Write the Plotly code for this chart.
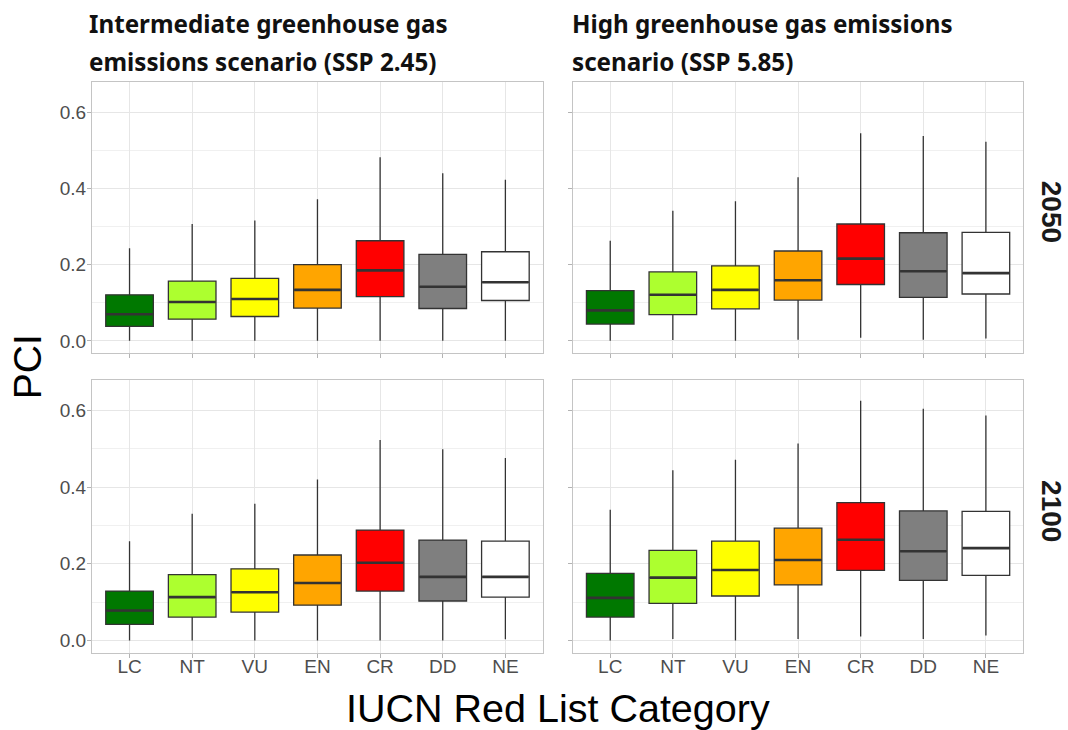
import plotly.graph_objects as go

categories = ["LC", "NT", "VU", "EN", "CR", "DD", "NE"]
box_colors = ["#007800", "#ADFF2F", "#FFFF00", "#FFA500", "#FF0000", "#7F7F7F", "#FFFFFF"]

# SSP 2.45, 2050
s245_2050_low = [0.0, 0.0, 0.0, 0.0, 0.0, 0.0, 0.0]
s245_2050_q1 = [0.038, 0.057, 0.064, 0.086, 0.116, 0.085, 0.106]
s245_2050_med = [0.070, 0.102, 0.110, 0.134, 0.185, 0.142, 0.154]
s245_2050_q3 = [0.121, 0.157, 0.164, 0.200, 0.263, 0.227, 0.234]
s245_2050_high = [0.243, 0.307, 0.316, 0.372, 0.482, 0.440, 0.423]

# SSP 5.85, 2050
s585_2050_low = [0.0, 0.002, 0.0, 0.003, 0.008, 0.003, 0.006]
s585_2050_q1 = [0.044, 0.069, 0.084, 0.107, 0.148, 0.114, 0.123]
s585_2050_med = [0.080, 0.121, 0.134, 0.159, 0.216, 0.183, 0.178]
s585_2050_q3 = [0.132, 0.181, 0.197, 0.236, 0.307, 0.284, 0.285]
s585_2050_high = [0.263, 0.342, 0.367, 0.430, 0.545, 0.538, 0.523]

# SSP 2.45, 2100
s245_2100_low = [0.0, 0.0, 0.0, 0.0, 0.0, 0.0, 0.003]
s245_2100_q1 = [0.042, 0.061, 0.074, 0.092, 0.129, 0.103, 0.113]
s245_2100_med = [0.078, 0.113, 0.126, 0.150, 0.203, 0.166, 0.166]
s245_2100_q3 = [0.129, 0.172, 0.187, 0.223, 0.288, 0.262, 0.259]
s245_2100_high = [0.259, 0.331, 0.357, 0.420, 0.523, 0.499, 0.476]

# SSP 5.85, 2100
s585_2100_low = [0.0, 0.004, 0.0, 0.004, 0.010, 0.004, 0.013]
s585_2100_q1 = [0.061, 0.097, 0.116, 0.145, 0.183, 0.157, 0.170]
s585_2100_med = [0.111, 0.164, 0.184, 0.210, 0.263, 0.233, 0.241]
s585_2100_q3 = [0.175, 0.235, 0.259, 0.293, 0.360, 0.338, 0.337]
s585_2100_high = [0.341, 0.444, 0.472, 0.514, 0.626, 0.605, 0.587]

col_titles = [
    ["Intermediate greenhouse gas", "emissions scenario (SSP 2.45)"],
    ["High greenhouse gas emissions", "scenario (SSP 5.85)"],
]
row_labels = ["2050", "2100"]
y_ticks = [0.0, 0.2, 0.4, 0.6]
y_ticktext = ["0.0", "0.2", "0.4", "0.6"]
x_title = "IUCN Red List Category"
y_title = "PCI"

BOX_W = 0.76
positions = list(range(len(categories)))

panels = [
    ("x", "y", (s245_2050_low, s245_2050_q1, s245_2050_med, s245_2050_q3, s245_2050_high)),
    ("x2", "y2", (s585_2050_low, s585_2050_q1, s585_2050_med, s585_2050_q3, s585_2050_high)),
    ("x3", "y3", (s245_2100_low, s245_2100_q1, s245_2100_med, s245_2100_q3, s245_2100_high)),
    ("x4", "y4", (s585_2100_low, s585_2100_q1, s585_2100_med, s585_2100_q3, s585_2100_high)),
]

fig = go.Figure()
for xa, ya, (lo, q1, med, q3, hi) in panels:
    for i, pos in enumerate(positions):
        fig.add_trace(go.Box(
            x=[pos], q1=[q1[i]], median=[med[i]], q3=[q3[i]],
            lowerfence=[lo[i]], upperfence=[hi[i]],
            xaxis=xa, yaxis=ya,
            fillcolor=box_colors[i],
            line=dict(color="#333333", width=1.3),
            whiskerwidth=0, width=BOX_W,
            boxpoints=False, showlegend=False, hoverinfo="skip",
        ))
    # thicker median bars, as in ggplot (fatten = 2)
    mx, my = [], []
    for i, pos in enumerate(positions):
        mx += [pos - BOX_W / 2 + 0.01, pos + BOX_W / 2 - 0.01, None]
        my += [med[i], med[i], None]
    fig.add_trace(go.Scatter(
        x=mx, y=my, xaxis=xa, yaxis=ya, mode="lines",
        line=dict(color="#333333", width=2.6),
        showlegend=False, hoverinfo="skip",
    ))

x_domains = [[0.0861, 0.5084], [0.5362, 0.9583]]
y_domains = [[0.5164, 0.8877], [0.1059, 0.4795]]

axis_common = dict(
    showline=True, linecolor="#c4c4c4", linewidth=1, mirror=True,
    ticks="outside", ticklen=4, tickcolor="#b3b3b3", tickwidth=1,
    gridcolor="#e6e6e6", gridwidth=1, zeroline=False,
    tickfont=dict(family="Liberation Sans, Arial, sans-serif", size=19, color="#4d4d4d"),
)

layout = dict(
    width=1068, height=730,
    margin=dict(l=0, r=0, t=0, b=0),
    paper_bgcolor="white", plot_bgcolor="white",
    boxmode="overlay",
    showlegend=False,
)
for k, (xa, ya, _) in enumerate(panels):
    r, c = divmod(k, 2)
    xname = "xaxis" if k == 0 else f"xaxis{k+1}"
    yname = "yaxis" if k == 0 else f"yaxis{k+1}"
    layout[xname] = dict(
        axis_common, domain=x_domains[c], anchor=ya,
        range=[-0.6, len(categories) - 0.4],
        tickvals=positions, ticktext=categories, showticklabels=(r == 1),
        ticklabelstandoff=-7,
    )
    layout[yname] = dict(
        axis_common, domain=y_domains[r], anchor=xa,
        range=[-0.032, 0.68], tickvals=y_ticks, ticktext=y_ticktext,
        showticklabels=(c == 0), ticklabelstandoff=-3,
        minor=dict(showgrid=True, dtick=0.1, tick0=0.1, gridcolor="#f0f0f0", gridwidth=1, ticks=""),
    )
fig.update_layout(**layout)

title_font = dict(family="Noto Sans, sans-serif", size=24.2, color="#111111")
title_x = [0.0815, 0.5337]
title_y = [0.968, 0.9156]
for c in range(2):
    for j in range(2):
        fig.add_annotation(
            text=f"<b>{col_titles[c][j]}</b>", xref="paper", yref="paper",
            x=title_x[c], y=title_y[j], xanchor="left", yanchor="middle",
            showarrow=False, font=title_font,
        )

strip_y = [0.710, 0.300]
for r in range(2):
    fig.add_annotation(
        text=f"<b>{row_labels[r]}</b>", xref="paper", yref="paper",
        x=0.984, y=strip_y[r], xanchor="center", yanchor="middle",
        textangle=90, showarrow=False,
        font=dict(family="Liberation Sans, Arial, sans-serif", size=28, color="#1a1a1a"),
    )

fig.add_annotation(
    text=y_title, xref="paper", yref="paper", x=0.0253, y=0.497,
    xanchor="center", yanchor="middle", textangle=-90, showarrow=False,
    font=dict(family="Liberation Sans, Arial, sans-serif", size=39, color="black"),
)
fig.add_annotation(
    text=x_title, xref="paper", yref="paper", x=0.5223, y=0.030,
    xanchor="center", yanchor="middle", showarrow=False,
    font=dict(family="Liberation Sans, Arial, sans-serif", size=39.5, color="black"),
)

fig.write_html(
    "out.html",
    config={"displayModeBar": False},
    post_script="document.body.style.margin='0';document.body.style.overflow='hidden';",
)
